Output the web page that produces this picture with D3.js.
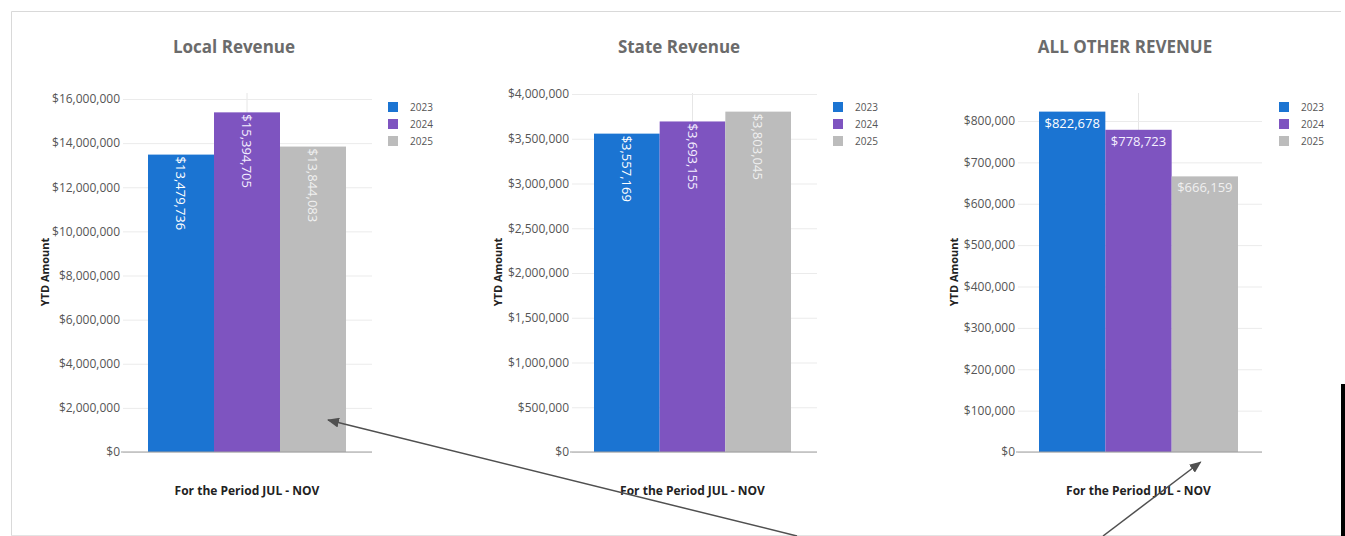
<!DOCTYPE html>
<html>
<head>
<meta charset="utf-8">
<script src="https://cdn.jsdelivr.net/npm/d3@7"></script>
<style>
  html, body { margin: 0; padding: 0; background: #ffffff; }
  svg { display: block; font-family: "Open Sans", "Noto Sans", sans-serif; }
</style>
</head>
<body>
<svg id="chart" width="1345" height="536"></svg>
<script>
// ---- data ----
const years = ["2023", "2024", "2025"];
const period = ["JUL - NOV"];
const localRevenue = [13479736, 15394705, 13844083];
const stateRevenue = [3557169, 3693155, 3803045];
const otherRevenue = [822678, 778723, 666159];
const localTicks = [0, 2000000, 4000000, 6000000, 8000000, 10000000, 12000000, 14000000, 16000000];
const stateTicks = [0, 500000, 1000000, 1500000, 2000000, 2500000, 3000000, 3500000, 4000000];
const otherTicks = [0, 100000, 200000, 300000, 400000, 500000, 600000, 700000, 800000];
const titles = ["Local Revenue", "State Revenue", "ALL OTHER REVENUE"];
const yTitle = "YTD Amount";
const xTitle = "For the Period JUL - NOV";
const yearColors = ["#1b74d2", "#7e54c0", "#bcbcbc"];
const labelColors = ["#ffffff", "#f4efff", "#f0f0f0"];

const svg = d3.select("#chart");
const money = d3.format("$,");

// outer frame of the dashboard tile
svg.append("path")
  .attr("d", "M11.5,536 V11.5 H1341")
  .attr("fill", "none").attr("stroke", "#d9d9d9").attr("stroke-width", 1);
svg.append("line")
  .attr("x1", 11).attr("x2", 1341).attr("y1", 535.5).attr("y2", 535.5)
  .attr("stroke", "#e4e4e4");

const baseY = 452;
const plotTop = 93;

// gx0/gx1: gridline extent, bx0/bx1: extent of the bar group
const panels = [
  { title: titles[0], values: localRevenue, ticks: localTicks, gx0: 123, gx1: 372, bx0: 148, bx1: 346,
    topPx: 99, titleX: 234, yTitleX: 44, legendX: 388, vertical: true },
  { title: titles[1], values: stateRevenue, ticks: stateTicks, gx0: 572, gx1: 817, bx0: 594, bx1: 791,
    topPx: 94, titleX: 679, yTitleX: 497, legendX: 833, vertical: true },
  { title: titles[2], values: otherRevenue, ticks: otherTicks, gx0: 1018, gx1: 1262, bx0: 1039, bx1: 1238,
    topPx: 121, titleX: 1125, yTitleX: 953, legendX: 1279, vertical: false }
];

const scales = [];

panels.forEach((p, pi) => {
  const g = svg.append("g");
  const y = d3.scaleLinear().domain([0, d3.max(p.ticks)]).range([baseY, p.topPx]);
  const x0 = d3.scaleBand().domain(period).range([p.bx0, p.bx1]).padding(0);
  const x1 = d3.scaleBand().domain(years).range([0, x0.bandwidth()]).padding(0);
  scales.push({ x0, x1, y });

  // title
  g.append("text")
    .attr("x", p.titleX).attr("y", 53)
    .attr("text-anchor", "middle")
    .attr("font-size", 17).attr("font-weight", 700)
    .attr("fill", "#6b6b6b")
    .text(p.title);

  // category gridline
  const cx = x0(period[0]) + x0.bandwidth() / 2;
  g.append("line")
    .attr("x1", cx).attr("x2", cx).attr("y1", plotTop).attr("y2", baseY)
    .attr("stroke", "#e6e6e6");

  // value axis with gridlines
  const axis = g.append("g")
    .attr("transform", `translate(${p.gx0},0)`)
    .call(d3.axisLeft(y).tickValues(p.ticks).tickFormat(money)
      .tickSize(-(p.gx1 - p.gx0)).tickPadding(3));
  axis.select(".domain").remove();
  axis.selectAll(".tick line").attr("stroke", "#ebebeb");
  axis.selectAll(".tick text")
    .attr("font-family", "'Open Sans', sans-serif")
    .attr("font-size", 12).attr("fill", "#555");

  // bars
  g.append("g").selectAll("rect")
    .data(p.values.map((v, i) => ({ year: years[i], value: v, i })))
    .join("rect")
    .attr("x", d => x0(period[0]) + x1(d.year))
    .attr("width", x1.bandwidth())
    .attr("y", d => y(d.value))
    .attr("height", d => y(0) - y(d.value))
    .attr("fill", d => yearColors[d.i]);

  // baseline
  g.append("line")
    .attr("x1", p.gx0 - 2).attr("x2", p.gx1).attr("y1", y(0)).attr("y2", y(0))
    .attr("stroke", "#9e9e9e");

  // value labels
  const labels = g.append("g").selectAll("text")
    .data(p.values.map((v, i) => ({ year: years[i], value: v, i })))
    .join("text")
    .attr("font-size", 13)
    .attr("fill", d => labelColors[d.i])
    .text(d => money(d.value));
  if (p.vertical) {
    labels
      .attr("text-anchor", "start")
      .attr("dominant-baseline", "central")
      .attr("transform", d => {
        const bx = x0(period[0]) + x1(d.year) + x1.bandwidth() / 2;
        return `translate(${bx},${y(d.value) + 2}) rotate(90)`;
      });
  } else {
    labels
      .attr("text-anchor", "middle")
      .attr("x", d => x0(period[0]) + x1(d.year) + x1.bandwidth() / 2)
      .attr("y", d => y(d.value) + 16);
  }

  // axis titles
  g.append("text")
    .attr("transform", `translate(${p.yTitleX},272) rotate(-90)`)
    .attr("text-anchor", "middle").attr("dominant-baseline", "central")
    .attr("font-size", 11).attr("font-weight", 700).attr("fill", "#222")
    .text(yTitle);
  g.append("text")
    .attr("x", cx).attr("y", 495)
    .attr("text-anchor", "middle")
    .attr("font-size", 12).attr("font-weight", 700).attr("fill", "#222")
    .text(xTitle);

  // legend
  const leg = g.append("g").selectAll("g")
    .data(years)
    .join("g")
    .attr("transform", (d, i) => `translate(${p.legendX},${102 + i * 17})`);
  leg.append("rect").attr("width", 10).attr("height", 10)
    .attr("fill", (d, i) => yearColors[i]);
  leg.append("text")
    .attr("x", 22).attr("y", 5)
    .attr("dominant-baseline", "central")
    .attr("font-size", 10).attr("fill", "#555")
    .text(d => d);
});

// annotation arrows
const defs = svg.append("defs");
defs.append("marker")
  .attr("id", "head")
  .attr("viewBox", "0 0 12 10")
  .attr("refX", 11).attr("refY", 5)
  .attr("markerWidth", 12).attr("markerHeight", 10)
  .attr("markerUnits", "userSpaceOnUse")
  .attr("orient", "auto")
  .append("path").attr("d", "M0,0 L12,5 L0,10 Z").attr("fill", "#505050");

const s1 = scales[0], s3 = scales[2];
const tip1 = [s1.x0(period[0]) + s1.x1("2025") + 48, s1.y(1450000)];
const tip2 = [s3.x0(period[0]) + s3.x1("2025") + 29, s3.y(0) + 10];
svg.append("line")
  .attr("x1", 797).attr("y1", 536).attr("x2", tip1[0]).attr("y2", tip1[1])
  .attr("stroke", "#505050").attr("stroke-width", 1.5)
  .attr("marker-end", "url(#head)");
svg.append("line")
  .attr("x1", 1103).attr("y1", 536).attr("x2", tip2[0]).attr("y2", tip2[1])
  .attr("stroke", "#505050").attr("stroke-width", 1.5)
  .attr("marker-end", "url(#head)");

// dark edge at the right of the tile
svg.append("rect")
  .attr("x", 1341).attr("y", 384).attr("width", 4).attr("height", 152)
  .attr("fill", "#000");
</script>
</body>
</html>
